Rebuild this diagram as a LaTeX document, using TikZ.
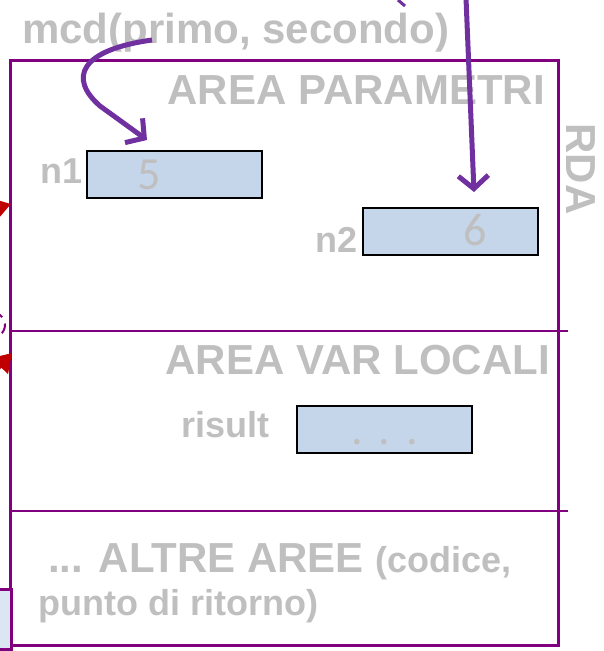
\documentclass[tikz,border=0pt]{standalone}
\usepackage{fontspec}
\setmainfont{Liberation Sans}
\newfontfamily\cifre{Carlito}
\usepackage{xcolor}
\usepackage{tikz}
\usetikzlibrary{arrows.meta}

\definecolor{viola}{HTML}{800080}
\definecolor{freccia}{HTML}{7030A0}
\definecolor{grigio}{HTML}{BFBFBF}
\definecolor{cella}{HTML}{C5D5EA}
\definecolor{rosso}{HTML}{C00000}

\begin{document}
\begin{tikzpicture}[x=1pt,y=-1pt,
		testo/.style={text=grigio,inner sep=0pt,font=\bfseries\fontsize{42}{48}\selectfont},
		testino/.style={text=grigio,inner sep=0pt,font=\bfseries\fontsize{36}{40}\selectfont},
		cifra/.style={text=grigio,inner sep=0pt,font=\cifre\fontsize{46}{50}\selectfont},
		cella/.style={draw=black,line width=2pt,fill=cella,minimum width=175pt,minimum height=47pt,inner sep=0pt},
		puntatore/.style={draw=freccia,line width=5pt,-{Straight Barb[length=13pt,width=30pt]}},
		rossa/.style={draw=rosso,line width=5pt,-{Triangle[length=18pt,width=22pt]}}]
				\useasboundingbox (0,0) rectangle (603,651);

				% frame of the RDA
				\draw[viola,line width=3pt] (10.5,60) rectangle (558.5,645);
				\draw[viola,line width=2pt] (10.5,331) -- (568,331);
				\draw[viola,line width=2pt] (10.5,511) -- (568,511);

				% bits of the slide cut by the edge
				\draw[fill=cella!60,draw=viola,line width=3pt] (-10,589) rectangle (11.5,649);
				\draw[viola,line width=2pt,dash pattern=on 9pt off 7pt] (-12,325) ellipse (17 and 14);
				\draw[rossa] (-30,216) -- (11,204);
				\draw[rossa] (-25,392) -- (12,353);
				\draw[freccia,line width=3pt] (398,0) -- (405,6);

				\node[testo,anchor=base west] (chiamata) at (22,43) {mcd(primo, secondo)};
				\node[testo,anchor=base east] (parametri) at (545,104) {AREA PARAMETRI};
				\node[testo,anchor=center,rotate=-90] (rda) at (581,169) {RDA};

				\node[cella] (box1) at (174.5,174.5) {};
				\node[cella] (box2) at (450.5,231) {};
				\node[testino,anchor=base east] (n1) at (83,183) {n1};
				\node[testino,anchor=base east] (n2) at (358,252) {n2};
				\node[cifra] (v1) at (149,175) {5};
				\node[cifra] (v2) at (475,230) {6};

				\node[testo,anchor=base east] (locali) at (550,374) {AREA VAR LOCALI};
				\node[cella] (box3) at (384.5,429.5) {};
				\node[testino,anchor=base west] (risult) at (181,437) {risult};
				\node[cifra,anchor=base] (v3) at (384.5,444) {.\hspace{16pt}.\hspace{16pt}.};

				\node[testo,anchor=base west] (altre) at (48,572) {... ALTRE AREE {\fontsize{36}{40}\selectfont(codice,}};
				\node[testino,anchor=base west] (ritorno) at (38,615) {punto di ritorno)};

				\coordinate (da1) at (152,40);
				\coordinate (a1) at (147,140);
				\coordinate (da2) at (466,-2);
				\coordinate (a2) at (474,192);
				\draw[puntatore] (da1) .. controls (80,50) and (68,78) .. (100,106) -- (a1);
				\draw[puntatore] (da2) -- (a2);
\end{tikzpicture}
\end{document}
